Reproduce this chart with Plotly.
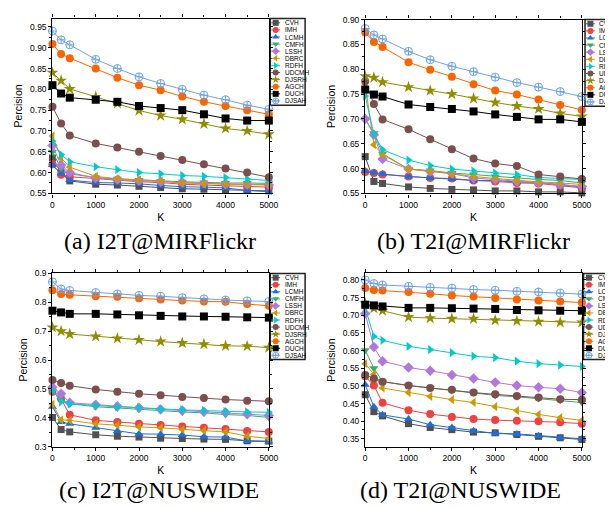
import plotly.graph_objects as go

W, H = 613, 508

K = [0, 200, 400, 1000, 1500, 2000, 2500, 3000, 3500, 4000, 4500, 5000]
methods = ["CVH", "IMH", "LCMH", "CMFH", "LSSH", "DBRC", "RDFH", "UDCMH", "DJSRH", "AGCH", "DUCH", "DJSAH"]

# (a) I2T@MIRFlickr
a_vals = {
    "CVH":   [0.635, 0.600, 0.580, 0.572, 0.570, 0.567, 0.564, 0.561, 0.560, 0.559, 0.557, 0.556],
    "IMH":   [0.620, 0.595, 0.590, 0.585, 0.582, 0.578, 0.576, 0.572, 0.570, 0.568, 0.566, 0.565],
    "LCMH":  [0.618, 0.597, 0.582, 0.576, 0.575, 0.573, 0.569, 0.566, 0.565, 0.563, 0.557, 0.554],
    "CMFH":  [0.650, 0.610, 0.597, 0.588, 0.585, 0.582, 0.580, 0.578, 0.576, 0.575, 0.575, 0.574],
    "LSSH":  [0.665, 0.618, 0.600, 0.587, 0.583, 0.580, 0.578, 0.576, 0.574, 0.572, 0.571, 0.570],
    "DBRC":  [0.688, 0.635, 0.613, 0.591, 0.585, 0.582, 0.580, 0.575, 0.573, 0.572, 0.572, 0.571],
    "RDFH":  [0.675, 0.643, 0.626, 0.614, 0.607, 0.600, 0.597, 0.593, 0.591, 0.588, 0.584, 0.581],
    "UDCMH": [0.758, 0.718, 0.689, 0.670, 0.660, 0.650, 0.640, 0.630, 0.620, 0.610, 0.600, 0.589],
    "DJSRH": [0.840, 0.821, 0.801, 0.782, 0.766, 0.749, 0.737, 0.728, 0.717, 0.706, 0.700, 0.692],
    "AGCH":  [0.909, 0.885, 0.875, 0.850, 0.828, 0.810, 0.798, 0.783, 0.770, 0.760, 0.750, 0.740],
    "DUCH":  [0.810, 0.790, 0.780, 0.775, 0.770, 0.760, 0.755, 0.750, 0.740, 0.730, 0.725, 0.725],
    "DJSAH": [0.940, 0.919, 0.907, 0.872, 0.850, 0.830, 0.814, 0.800, 0.786, 0.775, 0.762, 0.752],
}

# (b) T2I@MIRFlickr
b_vals = {
    "CVH":   [0.624, 0.574, 0.570, 0.563, 0.560, 0.558, 0.557, 0.555, 0.555, 0.553, 0.553, 0.551],
    "IMH":   [0.593, 0.591, 0.588, 0.584, 0.581, 0.580, 0.576, 0.574, 0.571, 0.570, 0.566, 0.561],
    "LCMH":  [0.595, 0.592, 0.589, 0.584, 0.581, 0.579, 0.576, 0.576, 0.573, 0.572, 0.568, 0.563],
    "CMFH":  [0.700, 0.671, 0.630, 0.599, 0.596, 0.591, 0.588, 0.584, 0.581, 0.578, 0.576, 0.571],
    "LSSH":  [0.700, 0.668, 0.619, 0.599, 0.594, 0.590, 0.581, 0.578, 0.574, 0.571, 0.568, 0.564],
    "DBRC":  [0.770, 0.648, 0.628, 0.599, 0.595, 0.589, 0.584, 0.580, 0.576, 0.573, 0.571, 0.568],
    "RDFH":  [0.746, 0.670, 0.638, 0.617, 0.606, 0.599, 0.595, 0.591, 0.588, 0.582, 0.580, 0.578],
    "UDCMH": [0.776, 0.730, 0.699, 0.679, 0.659, 0.639, 0.620, 0.610, 0.605, 0.588, 0.584, 0.579],
    "DJSRH": [0.786, 0.783, 0.774, 0.764, 0.757, 0.750, 0.741, 0.733, 0.726, 0.720, 0.711, 0.705],
    "AGCH":  [0.874, 0.855, 0.845, 0.814, 0.799, 0.785, 0.770, 0.757, 0.749, 0.739, 0.728, 0.718],
    "DUCH":  [0.759, 0.749, 0.745, 0.729, 0.724, 0.720, 0.715, 0.709, 0.704, 0.699, 0.699, 0.694],
    "DJSAH": [0.882, 0.869, 0.861, 0.836, 0.819, 0.806, 0.795, 0.784, 0.773, 0.764, 0.755, 0.745],
}

# (c) I2T@NUSWIDE
c_vals = {
    "CVH":   [0.401, 0.359, 0.351, 0.341, 0.336, 0.333, 0.329, 0.328, 0.326, 0.325, 0.320, 0.319],
    "IMH":   [0.490, 0.465, 0.410, 0.391, 0.385, 0.379, 0.375, 0.370, 0.365, 0.361, 0.354, 0.351],
    "LCMH":  [0.438, 0.385, 0.379, 0.365, 0.354, 0.344, 0.343, 0.340, 0.334, 0.333, 0.319, 0.317],
    "CMFH":  [0.493, 0.461, 0.449, 0.438, 0.434, 0.429, 0.426, 0.420, 0.417, 0.411, 0.408, 0.401],
    "LSSH":  [0.506, 0.483, 0.452, 0.445, 0.440, 0.435, 0.429, 0.425, 0.421, 0.418, 0.413, 0.408],
    "DBRC":  [0.446, 0.393, 0.391, 0.379, 0.374, 0.368, 0.365, 0.359, 0.355, 0.351, 0.336, 0.328],
    "RDFH":  [0.495, 0.455, 0.448, 0.442, 0.438, 0.435, 0.430, 0.427, 0.425, 0.422, 0.420, 0.419],
    "UDCMH": [0.531, 0.520, 0.511, 0.498, 0.490, 0.483, 0.478, 0.472, 0.468, 0.463, 0.459, 0.457],
    "DJSRH": [0.713, 0.700, 0.690, 0.682, 0.675, 0.670, 0.664, 0.659, 0.655, 0.649, 0.648, 0.643],
    "AGCH":  [0.842, 0.829, 0.826, 0.821, 0.819, 0.814, 0.810, 0.806, 0.803, 0.802, 0.794, 0.788],
    "DUCH":  [0.771, 0.765, 0.760, 0.760, 0.758, 0.755, 0.753, 0.751, 0.751, 0.750, 0.748, 0.747],
    "DJSAH": [0.871, 0.846, 0.841, 0.834, 0.829, 0.824, 0.821, 0.816, 0.812, 0.808, 0.805, 0.803],
}

# (d) T2I@NUSWIDE
d_vals = {
    "CVH":   [0.475, 0.427, 0.415, 0.393, 0.382, 0.376, 0.369, 0.367, 0.362, 0.357, 0.353, 0.348],
    "IMH":   [0.527, 0.501, 0.452, 0.431, 0.420, 0.412, 0.406, 0.403, 0.401, 0.400, 0.397, 0.393],
    "LCMH":  [0.503, 0.441, 0.418, 0.406, 0.390, 0.382, 0.373, 0.365, 0.364, 0.359, 0.353, 0.350],
    "CMFH":  [0.601, 0.550, 0.512, 0.501, 0.494, 0.487, 0.481, 0.473, 0.469, 0.464, 0.459, 0.453],
    "LSSH":  [0.705, 0.610, 0.570, 0.552, 0.543, 0.531, 0.521, 0.510, 0.501, 0.496, 0.492, 0.481],
    "DBRC":  [0.563, 0.533, 0.494, 0.481, 0.470, 0.461, 0.453, 0.441, 0.430, 0.419, 0.410, 0.402],
    "RDFH":  [0.721, 0.640, 0.629, 0.612, 0.603, 0.594, 0.584, 0.580, 0.570, 0.563, 0.559, 0.555],
    "UDCMH": [0.531, 0.521, 0.512, 0.501, 0.494, 0.489, 0.481, 0.476, 0.471, 0.467, 0.462, 0.461],
    "DJSRH": [0.734, 0.720, 0.713, 0.695, 0.692, 0.690, 0.690, 0.686, 0.684, 0.682, 0.680, 0.680],
    "AGCH":  [0.777, 0.772, 0.770, 0.766, 0.761, 0.756, 0.753, 0.749, 0.745, 0.742, 0.739, 0.736],
    "DUCH":  [0.730, 0.728, 0.725, 0.721, 0.721, 0.720, 0.719, 0.718, 0.715, 0.714, 0.713, 0.713],
    "DJSAH": [0.800, 0.790, 0.786, 0.782, 0.779, 0.777, 0.773, 0.771, 0.768, 0.766, 0.763, 0.760],
}

captions = ["(a) I2T@MIRFlickr", "(b) T2I@MIRFlickr", "(c) I2T@NUSWIDE", "(d) T2I@NUSWIDE"]

colors = {
    "CVH": "#515151", "IMH": "#F14040", "LCMH": "#1A6FDF", "CMFH": "#37AD6B",
    "LSSH": "#B177DE", "DBRC": "#CC9900", "RDFH": "#00CBCC", "UDCMH": "#7D4E4E",
    "DJSRH": "#8E8E00", "AGCH": "#FB6501", "DUCH": "#000000", "DJSAH": "#6CA2EA",
}
symbols = {
    "CVH": "square", "IMH": "circle", "LCMH": "triangle-up", "CMFH": "triangle-down",
    "LSSH": "diamond", "DBRC": "triangle-left", "RDFH": "triangle-right", "UDCMH": "circle",
    "DJSRH": "star", "AGCH": "circle", "DUCH": "square", "DJSAH": "circle-cross-open",
}
sizes = {"CVH": 7, "IMH": 8, "LCMH": 8, "CMFH": 8, "LSSH": 8, "DBRC": 8, "RDFH": 8,
         "UDCMH": 8, "DJSRH": 9, "AGCH": 8, "DUCH": 8, "DJSAH": 8}

# panel geometry in pixels: (left, right, top, bottom, ymin, ymax, ydtick)
panels = [
    (43.3, 264.0, 5.7, 184.0, 0.55, 0.970, 0.05, a_vals),
    (362.3, 583.3, 6.7, 184.0, 0.55, 0.900, 0.05, b_vals),
    (43.3, 264.0, 265.7, 442.3, 0.30, 0.900, 0.1, c_vals),
    (362.3, 583.3, 265.7, 442.3, 0.328, 0.8185, 0.05, d_vals),
]
legend_boxes = [
    (265.5, 301.0, 5.7, 94.0),
    (586.5, 622.0, 6.7, 95.0),
    (265.5, 301.0, 265.7, 353.5),
    (585.0, 620.5, 265.7, 353.5),
]
cap_pos = [(153, 233), (473, 233), (152, 487), (460, 487)]

fig = go.Figure()
layout = dict(
    width=W, height=H, margin=dict(l=0, r=0, t=0, b=0),
    paper_bgcolor="white", plot_bgcolor="white", showlegend=False,
    font=dict(family="Liberation Sans, Arial", color="#000"),
)
annotations = []
shapes = []
tickfont = dict(family="Liberation Sans, Arial", size=8.5, color="#000")

for p, (l, r, t, b, y0, y1, ydt, vals) in enumerate(panels):
    n = p + 1
    xs = "" if n == 1 else str(n)
    for m in methods:
        fig.add_trace(go.Scatter(
            x=K, y=vals[m], mode="lines+markers", xaxis="x" + xs, yaxis="y" + xs,
            line=dict(color=colors[m], width=1),
            marker=dict(symbol=symbols[m], size=sizes[m], color=colors[m],
                        line=dict(color=colors[m], width=1 if m == "DJSAH" else 0)),
            cliponaxis=False, name=m,
        ))
    layout["xaxis" + xs] = dict(
        domain=[l / W, r / W], anchor="y" + xs, range=[0, 5000],
        tickmode="array", tickvals=[0, 1000, 2000, 3000, 4000, 5000],
        ticks="outside", ticklen=3, tickwidth=1, tickcolor="#000",
        minor=dict(dtick=500, tick0=0, ticks="outside", ticklen=2, tickcolor="#000"),
        showline=True, linecolor="#000", linewidth=1.3, mirror="ticks",
        showgrid=False, zeroline=False, tickfont=tickfont,
        title=dict(text="K", font=dict(size=10.5), standoff=4),
    )
    layout["yaxis" + xs] = dict(
        domain=[1 - b / H, 1 - t / H], anchor="x" + xs, range=[y0, y1],
        dtick=ydt, tick0=0, tickformat=".2f" if ydt < 0.1 else ".1f",
        ticks="outside", ticklen=3, tickwidth=1, tickcolor="#000",
        minor=dict(dtick=ydt / 2, tick0=0, ticks="outside", ticklen=2, tickcolor="#000"),
        showline=True, linecolor="#000", linewidth=1.3, mirror="ticks",
        showgrid=False, zeroline=False, tickfont=tickfont,
        title=dict(text="Percision", font=dict(size=10.5), standoff=5),
    )

    # manual legend in its own small axis (pixel units)
    lx0, lx1, ly0, ly1 = legend_boxes[p]
    ln = 5 + p
    dom_r = min(lx1, W)
    layout["xaxis%d" % ln] = dict(domain=[lx0 / W, dom_r / W], range=[0, dom_r - lx0],
                                  visible=False, anchor="y%d" % ln, fixedrange=True)
    layout["yaxis%d" % ln] = dict(domain=[1 - ly1 / H, 1 - ly0 / H], range=[ly1 - ly0, 0],
                                  visible=False, anchor="x%d" % ln, fixedrange=True)
    shapes.append(dict(type="rect", xref="paper", yref="paper",
                       x0=lx0 / W, x1=lx1 / W, y0=1 - ly1 / H, y1=1 - ly0 / H,
                       line=dict(color="#222", width=1.5), fillcolor="white", layer="below"))
    step = (ly1 - ly0 - 8.6) / 11
    for i, m in enumerate(methods):
        yy = 4.3 + i * step
        fig.add_trace(go.Scatter(x=[1, 10], y=[yy, yy], mode="lines",
                                 xaxis="x%d" % ln, yaxis="y%d" % ln,
                                 line=dict(color=colors[m], width=1), hoverinfo="skip"))
        fig.add_trace(go.Scatter(x=[5.5], y=[yy], mode="markers",
                                 xaxis="x%d" % ln, yaxis="y%d" % ln,
                                 marker=dict(symbol=symbols[m], size=6, color=colors[m],
                                             line=dict(color=colors[m], width=1 if m == "DJSAH" else 0)),
                                 hoverinfo="skip", cliponaxis=False))
        annotations.append(dict(text=m, xref="x%d" % ln, yref="y%d" % ln, x=12.5, y=yy,
                                xanchor="left", yanchor="middle", showarrow=False,
                                font=dict(size=6.5, family="Liberation Sans, Arial", color="#000")))

    cx, cy = cap_pos[p]
    annotations.append(dict(text=captions[p], xref="paper", yref="paper", x=cx / W, y=1 - cy / H,
                            xanchor="center", yanchor="middle", showarrow=False,
                            font=dict(size=24, family="Liberation Serif, DejaVu Serif", color="#000")))

layout["annotations"] = annotations
layout["shapes"] = shapes
fig.update_layout(**layout)
fig.write_html("out.html")
